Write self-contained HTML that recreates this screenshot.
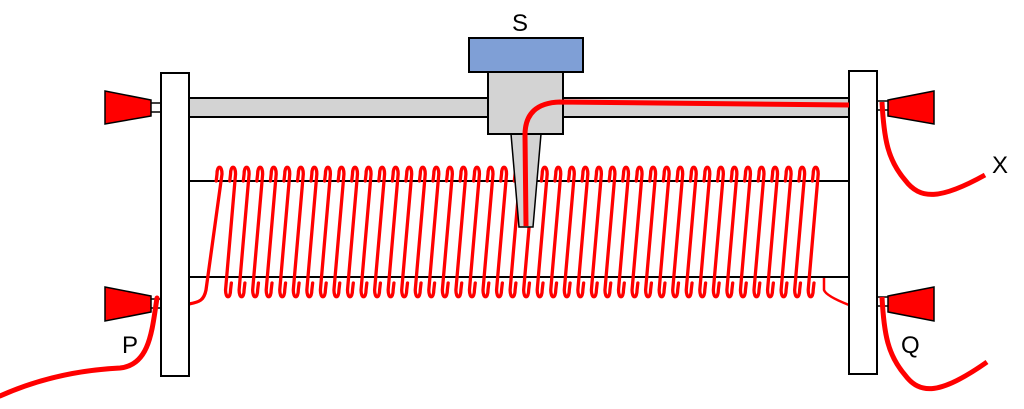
<!DOCTYPE html>
<html><head><meta charset="utf-8"><style>
html,body{margin:0;padding:0;background:#fff;width:1024px;height:409px;overflow:hidden}
svg text{font-family:"Liberation Sans",sans-serif;font-size:24px;fill:#000}
</style></head><body>
<svg id="s" width="1024" height="409" viewBox="0 0 1024 409" xmlns="http://www.w3.org/2000/svg">
<rect x="189" y="98" width="660" height="19" fill="#d3d3d3" stroke="#000" stroke-width="2"/>
<line x1="189" y1="181" x2="849" y2="181" stroke="#000" stroke-width="2"/>
<line x1="189" y1="277" x2="849" y2="277" stroke="#000" stroke-width="2"/>
<path id="coil" d="" fill="none" stroke="#f00" stroke-width="3.3" stroke-linejoin="round" stroke-linecap="round"/>
<path d="M824,278 L824,290 Q826,296 849,305" fill="none" stroke="#f00" stroke-width="2.5"/>
<rect x="150" y="103" width="11" height="9" fill="#fff" stroke="#000" stroke-width="1.5"/>
<rect x="150" y="299" width="11" height="9" fill="#fff" stroke="#000" stroke-width="1.5"/>
<polygon points="105,91 151,100 151,116 105,124" fill="#f00" stroke="#000" stroke-width="1.5"/>
<polygon points="105,287 151,296 151,312 105,321" fill="#f00" stroke="#000" stroke-width="1.5"/>
<rect x="877" y="101" width="12" height="9" fill="#fff" stroke="#000" stroke-width="1.5"/>
<rect x="877" y="297" width="12" height="9" fill="#fff" stroke="#000" stroke-width="1.5"/>
<polygon points="934,91 888,100 888,116 934,124" fill="#f00" stroke="#000" stroke-width="1.5"/>
<polygon points="934,287 888,296 888,312 934,321" fill="#f00" stroke="#000" stroke-width="1.5"/>
<rect x="161" y="73" width="28" height="303" fill="#fff" stroke="#000" stroke-width="2"/>
<rect x="849" y="71" width="28" height="303" fill="#fff" stroke="#000" stroke-width="2"/>
<polygon points="511,134 541,134 533,227 519,227" fill="#d3d3d3" stroke="#000" stroke-width="1.5"/>
<rect x="488" y="72" width="75" height="62" fill="#d3d3d3" stroke="#000" stroke-width="2"/>
<rect x="469" y="38" width="114" height="34" fill="#7f9fd6" stroke="#000" stroke-width="2"/>
<path d="M526,226 L525,135 Q525,103 560,102 L849,105" fill="none" stroke="#f00" stroke-width="5"/>
<path d="M157,298 C152,330 150,365 120,368 C80,370 40,378 0,396" fill="none" stroke="#f00" stroke-width="5" stroke-linecap="round"/>
<path d="M882,102 C884,140 888,160 905,180 C920,200 940,200 985,175" fill="none" stroke="#f00" stroke-width="5"/>
<path d="M882,297 C884,335 888,355 905,375 C920,395 940,395 987,362" fill="none" stroke="#f00" stroke-width="5"/>
<text x="512" y="31">S</text>
<text x="122" y="353">P</text>
<text x="901" y="353">Q</text>
<text x="992" y="173">X</text>
</svg>
<script>
(function(){
var p=13.55,yb=293,yt=171,w=5,s=10;
var d="";
var b0=212;
for(var i=0;i<45;i++){
  var b=b0+i*p;
  if(i>0){
    d+=" M"+(b+w+0.8)+","+(yb-10)+" L"+(b+w)+","+(yb-3);
    d+=" C"+(b+w)+","+(yb+6)+" "+b+","+(yb+6)+" "+b+","+(yb-3);
    d+=" L"+(b+s)+","+(yt+3);
  } else {
    d+="M189,304 C200,302 204,300 206,290 L"+(b+s)+","+(yt+3);
  }
  d+=" C"+(b+s)+","+(yt-6)+" "+(b+s-w)+","+(yt-6)+" "+(b+s-w)+","+(yt+3);
  d+=" L"+(b+s-w-0.8)+","+(yt+10);
}
document.getElementById("coil").setAttribute("d",d);
})();
</script>
</body></html>
